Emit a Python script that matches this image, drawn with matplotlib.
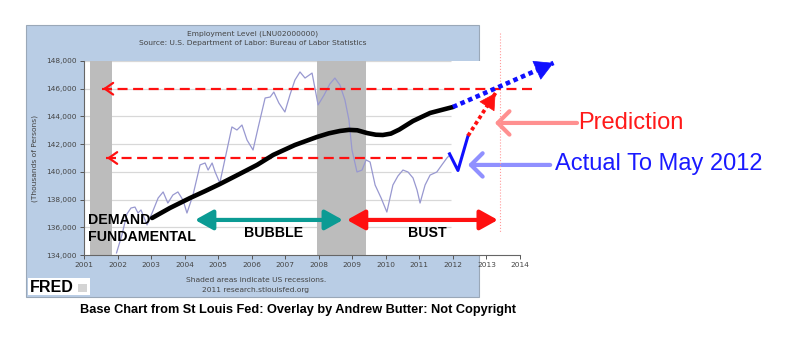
import numpy as np
import matplotlib.pyplot as plt
from matplotlib.patches import Rectangle
from matplotlib.ticker import FuncFormatter

# employment level LNU02000000
emp_years = [2001.97, 2002.13, 2002.28, 2002.40, 2002.52, 2002.61, 2002.70, 2002.88,
             2003.03, 2003.21, 2003.36, 2003.50, 2003.65, 2003.80, 2003.95, 2004.07,
             2004.25, 2004.46, 2004.61, 2004.70, 2004.82, 2004.91, 2005.05, 2005.23,
             2005.41, 2005.56, 2005.71, 2005.86, 2006.04, 2006.19, 2006.40, 2006.55,
             2006.66, 2006.81, 2006.99, 2007.14, 2007.29, 2007.44, 2007.59, 2007.80,
             2007.98, 2008.16, 2008.33, 2008.48, 2008.63, 2008.78, 2008.90, 2008.99,
             2009.14, 2009.29, 2009.41, 2009.53, 2009.68, 2009.86, 2010.03, 2010.21,
             2010.36, 2010.51, 2010.66, 2010.81, 2010.93, 2011.02, 2011.17, 2011.32,
             2011.52, 2011.67, 2011.82, 2011.91]
emp_values = [134150, 135440, 136960, 137390, 137460, 137030, 137250, 136170,
              137030, 138110, 138550, 137750, 138330, 138550, 137970, 137030,
              138330, 140500, 140640, 140130, 140640, 139990, 139200, 141220,
              143240, 143020, 143380, 142300, 141580, 143170, 145330, 145400,
              145760, 144970, 144320, 145550, 146630, 147210, 146770, 147130,
              144830, 145550, 146340, 146770, 146270, 145190, 143740, 141580,
              139990, 140130, 140860, 140710, 139050, 138110, 137100, 139050,
              139700, 140130, 139990, 139560, 138690, 137750, 139050, 139770,
              139990, 140500, 141000, 141220]

# hand drawn "demand fundamental" curve
fund_years = [2003.03, 2003.56, 2004.16, 2004.60, 2005.05, 2005.60, 2006.16, 2006.64,
              2007.29, 2007.95, 2008.30, 2008.63, 2008.90, 2009.15, 2009.44, 2009.70,
              2009.91, 2010.15, 2010.40, 2010.81, 2011.32, 2011.65, 2012.0]
fund_values = [136670, 137390, 138110, 138600, 139120, 139800, 140500, 141220,
               141940, 142520, 142780, 142950, 143030, 143000, 142800, 142680,
               142660, 142760, 143050, 143670, 144250, 144460, 144680]

# actual to May 2012 (blue tick) and the projections
actual_years = [2011.90, 2012.15, 2012.45]
actual_values = [141300, 140100, 142600]
fund_proj_x = [2012.0, 2015.0]
fund_proj_y = [144680, 147860]
pred_proj_x = [2012.45, 2013.27]
pred_proj_y = [142600, 145690]

recessions = [(2001.18, 2001.84), (2007.96, 2009.42)]
levels = [146000, 141000]
level_x = [(2001.48, 2014.46), (2001.60, 2011.84)]

W, H = 801, 355
fig = plt.figure(figsize=(W / 100, H / 100), dpi=100)


def fx(x):
    return x / W


def fy(y):
    return 1 - y / H


# FRED panel
fig.add_artist(Rectangle((fx(26), fy(297)), (479 - 26) / W, (297 - 25) / H,
                         transform=fig.transFigure, facecolor='#b9cde5',
                         edgecolor='#9aa8b8', lw=0.8, zorder=-1))

ax = fig.add_axes([fx(84), fy(255), (520 - 84) / W, (255 - 61) / H])
ax.set_xlim(2001, 2014)
ax.set_ylim(134000, 148000)
ax.set_facecolor('white')
for s in ['top', 'right']:
    ax.spines[s].set_visible(False)
for s in ['left', 'bottom']:
    ax.spines[s].set_color('#666666')
    ax.spines[s].set_linewidth(0.8)

ax.set_xticks(range(2001, 2015))
ax.set_yticks(range(134000, 148001, 2000))
ax.yaxis.set_major_formatter(FuncFormatter(lambda v, p: f'{int(v):,}'))
ax.tick_params(labelsize=5.3, colors='#555555', labelcolor='#444444', length=3, width=0.7, pad=2)

ax.hlines(range(136000, 148001, 2000), 2001, 2011.95, color='#d8d8d8', lw=0.9, zorder=1)
for a, b in recessions:
    ax.axvspan(a, b, color='#bcbcbc', lw=0, zorder=2)

ax.plot(emp_years, emp_values, color='#9898d0', lw=0.9, zorder=3)

# overlay
ax.plot(fund_years, fund_values, color='black', lw=3.3, solid_capstyle='round',
        solid_joinstyle='round', zorder=6)

for lv, (x0, x1) in zip(levels, level_x):
    ax.plot([x0 + 0.05, x1], [lv, lv], color='#ff1010', lw=1.6, ls=(0, (4.5, 2.5)),
            clip_on=False, zorder=5)
    ax.annotate('', xy=(x0, lv), xytext=(x0 + 0.3, lv),
                arrowprops=dict(arrowstyle='->,head_length=0.5,head_width=0.35',
                                color='#ff1010', lw=1.6, mutation_scale=12))


def dotted_arrow(xs, ys, color, lw, scale):
    # dotted shaft plus a solid head at the end
    ax.plot(xs, ys, color=color, lw=lw, ls=(0, (1, 0.8)), clip_on=False, zorder=7)
    back = (xs[1] - 0.12 * (xs[1] - xs[0]), ys[1] - 0.12 * (ys[1] - ys[0]))
    ax.annotate('', xy=(xs[1], ys[1]), xytext=back,
                arrowprops=dict(arrowstyle='-|>,head_length=0.9,head_width=0.5',
                                color=color, lw=0.5, mutation_scale=scale,
                                shrinkA=0, shrinkB=0), annotation_clip=False, zorder=8)


dotted_arrow(fund_proj_x, fund_proj_y, '#1010ff', 3.3, 14)
ax.plot(actual_years, actual_values, color='#1010ff', lw=2.2, zorder=7)
dotted_arrow(pred_proj_x, pred_proj_y, '#ff1010', 2.7, 12)

ax.plot([2013.40, 2013.40], [150020, 135660], color='#ff9a9a', lw=0.8, ls=':',
        clip_on=False, zorder=4)

# pointer arrows to the labels
ax.annotate('', xy=(2013.25, 143530), xytext=(2015.7, 143530),
            arrowprops=dict(arrowstyle='->,head_length=0.6,head_width=0.6',
                            color='#ff9090', lw=3, mutation_scale=14,
                            shrinkA=0, shrinkB=0), annotation_clip=False)
ax.annotate('', xy=(2012.45, 140500), xytext=(2014.9, 140500),
            arrowprops=dict(arrowstyle='->,head_length=0.6,head_width=0.6',
                            color='#9090ff', lw=3, mutation_scale=14,
                            shrinkA=0, shrinkB=0), annotation_clip=False)
ax.text(2015.73, 143530, 'Prediction', color='#ff1a1a', fontsize=17,
        family='Liberation Sans', va='center', ha='left')
ax.text(2015.04, 140567, 'Actual To May 2012', color='#1a1aff', fontsize=17,
        family='Liberation Sans', va='center', ha='left')

# era arrows
ax.annotate('', xy=(2008.72, 136530), xytext=(2004.31, 136530),
            arrowprops=dict(arrowstyle='<|-|>,head_length=0.9,head_width=0.5',
                            color='#0b9b94', lw=3, mutation_scale=12,
                            shrinkA=0, shrinkB=0), zorder=6)
ax.annotate('', xy=(2013.34, 136530), xytext=(2008.84, 136530),
            arrowprops=dict(arrowstyle='<|-|>,head_length=0.9,head_width=0.5',
                            color='#ff1010', lw=3, mutation_scale=12,
                            shrinkA=0, shrinkB=0), annotation_clip=False, zorder=6)

bold = dict(family='Liberation Sans', fontweight='bold', fontsize=10.2, color='black', zorder=8)
ax.text(2001.12, 136530, 'DEMAND', va='center', ha='left', **bold)
ax.text(2001.12, 135300, 'FUNDAMENTAL', va='center', ha='left', **bold)
ax.text(2006.64, 135590, 'BUBBLE', va='center', ha='center', **bold)
ax.text(2011.23, 135590, 'BUST', va='center', ha='center', **bold)

# FRED furniture
small = dict(family='DejaVu Sans', fontsize=5.4, color='#444444', ha='center', va='center')
fig.text(fx(253), fy(34), 'Employment Level (LNU02000000)', **small)
fig.text(fx(253), fy(43), 'Source: U.S. Department of Labor: Bureau of Labor Statistics', **small)
fig.text(fx(35), fy(158), '(Thousands of Persons)', rotation=90, **small)
fig.text(fx(256), fy(280), 'Shaded areas indicate US recessions.', **small)
fig.text(fx(256), fy(290), '2011 research.stlouisfed.org', **small)

fig.add_artist(Rectangle((fx(28), fy(295)), 62 / W, 17 / H, transform=fig.transFigure,
                         facecolor='white', edgecolor='none'))
fig.text(fx(30), fy(287), 'FRED', family='Liberation Sans', fontweight='bold',
         fontsize=11.5, color='black', va='center', ha='left')
fig.add_artist(Rectangle((fx(78), fy(292)), 9 / W, 8 / H, transform=fig.transFigure,
                         facecolor='#d4d4d4', edgecolor='none'))

fig.text(fx(80), fy(310), 'Base Chart from St Louis Fed: Overlay by Andrew Butter: Not Copyright',
         family='Liberation Sans', fontweight='bold', fontsize=9.2, color='black',
         va='center', ha='left')

fig.savefig('out.png', dpi=100)
